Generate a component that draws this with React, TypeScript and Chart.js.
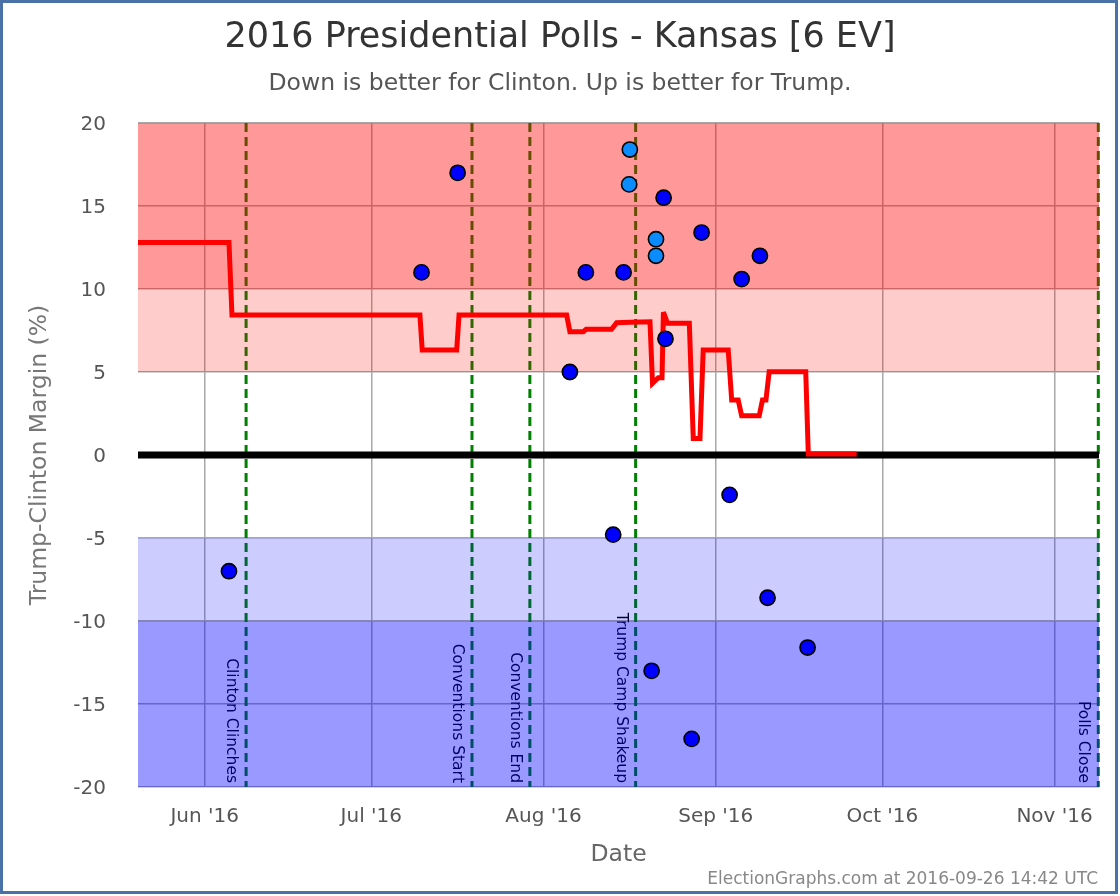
import React, { useEffect, useRef } from "react";
import { Chart, registerables } from "chart.js";

Chart.register(...registerables);

// ---------- data ----------
const X_MIN = "2016-05-20T00:00Z";
const X_MAX = "2016-11-09T00:00Z";

const monthTicks = [
  "2016-06-01T00:00Z",
  "2016-07-01T00:00Z",
  "2016-08-01T00:00Z",
  "2016-09-01T00:00Z",
  "2016-10-01T00:00Z",
  "2016-11-01T00:00Z",
];
const monthLabels = ["Jun '16", "Jul '16", "Aug '16", "Sep '16", "Oct '16", "Nov '16"];

const Y_MIN = -20;
const Y_MAX = 20;
const Y_STEP = 5;

// running average (red line)
const avgDates = [
  "2016-05-20T00:00Z", "2016-06-05T09:00Z", "2016-06-05T22:00Z", "2016-07-09T18:00Z",
  "2016-07-10T04:00Z", "2016-07-16T09:00Z", "2016-07-16T19:00Z", "2016-08-05T04:00Z",
  "2016-08-05T18:00Z", "2016-08-08T04:00Z", "2016-08-08T16:00Z", "2016-08-13T06:00Z",
  "2016-08-14T04:00Z", "2016-08-16T13:00Z", "2016-08-20T04:00Z", "2016-08-20T15:00Z",
  "2016-08-21T16:00Z", "2016-08-22T08:00Z", "2016-08-22T14:00Z", "2016-08-23T08:00Z",
  "2016-08-27T06:00Z", "2016-08-27T23:00Z", "2016-08-29T04:00Z", "2016-08-29T18:00Z",
  "2016-09-03T06:00Z", "2016-09-03T21:00Z", "2016-09-05T01:00Z", "2016-09-05T16:00Z",
  "2016-09-08T20:00Z", "2016-09-09T10:00Z", "2016-09-10T01:00Z", "2016-09-10T15:00Z",
  "2016-09-17T05:00Z", "2016-09-17T16:00Z", "2016-09-26T09:00Z",
];
const avgMargins = [
  12.8, 12.8, 8.43, 8.43,
  6.33, 6.33, 8.43, 8.43,
  7.43, 7.43, 7.57, 7.57,
  7.97, 8.0, 8.03, 4.32,
  4.66, 4.66, 8.6, 7.93,
  7.93, 1.0, 1.0, 6.33,
  6.33, 3.31, 3.31, 2.37,
  2.37, 3.31, 3.31, 5.02,
  5.02, 0.06, 0.06,
];

// individual polls
const pollDates = [
  "2016-06-05T09:00Z", "2016-07-10T01:00Z", "2016-07-16T13:00Z", "2016-08-05T18:00Z",
  "2016-08-08T15:00Z", "2016-08-13T13:00Z", "2016-08-15T10:00Z", "2016-08-16T13:00Z",
  "2016-08-16T10:00Z", "2016-08-20T11:00Z", "2016-08-21T06:00Z", "2016-08-21T06:00Z",
  "2016-08-22T15:00Z", "2016-08-22T23:00Z", "2016-08-27T16:00Z", "2016-08-29T11:00Z",
  "2016-09-03T12:00Z", "2016-09-05T16:00Z", "2016-09-08T23:00Z", "2016-09-10T08:00Z",
  "2016-09-17T13:00Z",
];
const pollMargins = [
  -7, 11, 17, 5,
  11, -4.8, 11, 18.4,
  16.3, -13, 13, 12,
  15.5, 7, -17.1, 13.4,
  -2.4, 10.6, 12, -8.6,
  -11.6,
];
// "full" = dark blue marker, "partial" = light blue marker
const pollKinds = [
  "full", "full", "full", "full",
  "full", "full", "full", "partial",
  "partial", "full", "partial", "partial",
  "full", "full", "full", "full",
  "full", "full", "full", "full",
  "full",
];

// events (dashed vertical lines)
const eventDates = [
  "2016-06-08T11:00Z",
  "2016-07-19T03:00Z",
  "2016-07-29T13:00Z",
  "2016-08-17T14:00Z",
  "2016-11-08T21:00Z",
];
const eventLabels = [
  "Clinton Clinches",
  "Conventions Start",
  "Conventions End",
  "Trump Camp Shakeup",
  "Polls Close",
];

// shaded bands
const bandLows = [10, 5, -10, -20];
const bandHighs = [20, 10, -5, -10];
const bandColors = [
  "rgba(255,0,0,0.4)",
  "rgba(255,0,0,0.2)",
  "rgba(0,0,255,0.2)",
  "rgba(0,0,255,0.4)",
];

const TITLE = "2016 Presidential Polls - Kansas [6 EV]";
const SUBTITLE = "Down is better for Clinton. Up is better for Trump.";
const Y_TITLE = "Trump-Clinton Margin (%)";
const X_TITLE = "Date";
const CREDIT = "ElectionGraphs.com at 2016-09-26 14:42 UTC";

// ---------- styling ----------
const FONT = '"DejaVu Sans", sans-serif';
const W = 1120;
const H = 896;

const t = (s: string) => Date.parse(s);

const decorPlugin = {
  id: "decor",
  beforeDatasetsDraw(chart: any) {
    const { ctx, chartArea: a, scales } = chart;
    const x = scales.x;
    const y = scales.y;
    ctx.save();
    // event lines + labels (drawn beneath bands)
    eventDates.forEach((d, i) => {
      const px = x.getPixelForValue(t(d));
      ctx.save();
      ctx.setLineDash([9, 5]);
      ctx.strokeStyle = "#008000";
      ctx.lineWidth = 3;
      ctx.beginPath();
      ctx.moveTo(px, a.top);
      ctx.lineTo(px, a.bottom);
      ctx.stroke();
      ctx.restore();

      ctx.save();
      ctx.translate(px - 19, a.bottom - 4);
      ctx.rotate(Math.PI / 2);
      ctx.font = `15.5px ${FONT}`;
      ctx.fillStyle = "#000";
      ctx.textAlign = "right";
      ctx.textBaseline = "alphabetic";
      ctx.fillText(eventLabels[i], 0, 0);
      ctx.restore();
    });
    // bands
    bandLows.forEach((lo, i) => {
      const top = y.getPixelForValue(bandHighs[i]);
      const bot = y.getPixelForValue(lo);
      ctx.fillStyle = bandColors[i];
      ctx.fillRect(a.left, top, a.right - a.left, bot - top);
    });
    // zero line
    const y0 = y.getPixelForValue(0);
    ctx.strokeStyle = "#000";
    ctx.lineWidth = 7;
    ctx.beginPath();
    ctx.moveTo(a.left, y0);
    ctx.lineTo(a.right, y0);
    ctx.stroke();
    ctx.restore();
    ctx.miterLimit = 4;
  },
  afterDraw(chart: any) {
    const { ctx } = chart;
    ctx.save();
    ctx.textAlign = "center";
    ctx.textBaseline = "alphabetic";
    ctx.fillStyle = "#333";
    ctx.font = `35px ${FONT}`;
    ctx.fillText(TITLE, 560, 47);
    ctx.fillStyle = "#555";
    ctx.font = `23.5px ${FONT}`;
    ctx.fillText(SUBTITLE, 560, 90);
    ctx.textAlign = "right";
    ctx.fillStyle = "#888";
    ctx.font = `17px ${FONT}`;
    ctx.fillText(CREDIT, 1098, 884);
    // frame
    ctx.strokeStyle = "#4a72a6";
    ctx.lineWidth = 3;
    ctx.strokeRect(1.5, 1.5, 1115, 891);
    ctx.restore();
  },
};

export default function App() {
  const ref = useRef<HTMLCanvasElement | null>(null);

  useEffect(() => {
    document.body.style.margin = "0";
    const canvas = ref.current;
    if (!canvas) return;

    const pollData = pollDates.map((d, i) => ({ x: t(d), y: pollMargins[i] }));
    const avgData = avgDates.map((d, i) => ({ x: t(d), y: avgMargins[i] }));

    const chart = new Chart(canvas, {
      type: "scatter",
      data: {
        datasets: [
          {
            label: "Polls",
            data: pollData,
            order: 0,
            pointRadius: 7.6,
            pointBorderWidth: 1.6,
            pointBorderColor: "#000",
            pointBackgroundColor: pollKinds.map((k) => (k === "partial" ? "#0a8cff" : "#0000ff")),
            showLine: false,
          } as any,
          {
            label: "Average",
            data: avgData,
            order: 1,
            showLine: true,
            borderColor: "#ff0000",
            borderWidth: 5,
            pointRadius: 0,
            tension: 0,
            fill: false,
          } as any,
        ],
      },
      options: {
        animation: false,
        responsive: false,
        devicePixelRatio: 1,
        events: [],
        layout: { padding: { top: 123, left: 0, right: 21, bottom: 0 } },
        plugins: {
          legend: { display: false },
          tooltip: { enabled: false },
          title: { display: false },
        },
        scales: {
          x: {
            type: "linear",
            min: t(X_MIN),
            max: t(X_MAX),
            afterBuildTicks: (scale: any) => {
              scale.ticks = monthTicks.map((m) => ({ value: t(m) }));
            },
            afterFit: (scale: any) => {
              scale.height = 109;
            },
            ticks: {
              autoSkip: false,
              maxRotation: 0,
              padding: 18,
              color: "#555",
              font: { family: FONT, size: 20 },
              callback: (value: any) => {
                const idx = monthTicks.findIndex((m) => t(m) === value);
                return idx >= 0 ? monthLabels[idx] : "";
              },
            },
            grid: { color: "#a8a8a8", lineWidth: 1.5, drawTicks: false },
            border: { display: false },
            title: {
              display: true,
              text: X_TITLE,
              color: "#666",
              font: { family: FONT, size: 23.5 },
              padding: { top: 0, bottom: 27 },
            },
          },
          y: {
            type: "linear",
            min: Y_MIN,
            max: Y_MAX,
            afterFit: (scale: any) => {
              scale.width = 138;
            },
            ticks: {
              stepSize: Y_STEP,
              padding: 32,
              labelOffset: 2,
              color: "#555",
              font: { family: FONT, size: 20 },
            },
            grid: { color: "#a8a8a8", lineWidth: 1.5, drawTicks: false },
            border: { display: false },
            title: {
              display: true,
              text: Y_TITLE,
              color: "#777",
              font: { family: FONT, size: 23.5 },
              padding: { top: 26, bottom: 0 },
            },
          },
        },
      },
      plugins: [decorPlugin],
    });

    return () => chart.destroy();
  }, []);

  return (
    <div style={{ width: W, height: H, background: "#fff" }}>
      <canvas ref={ref} width={W} height={H} style={{ width: W, height: H, display: "block" }} />
    </div>
  );
}
